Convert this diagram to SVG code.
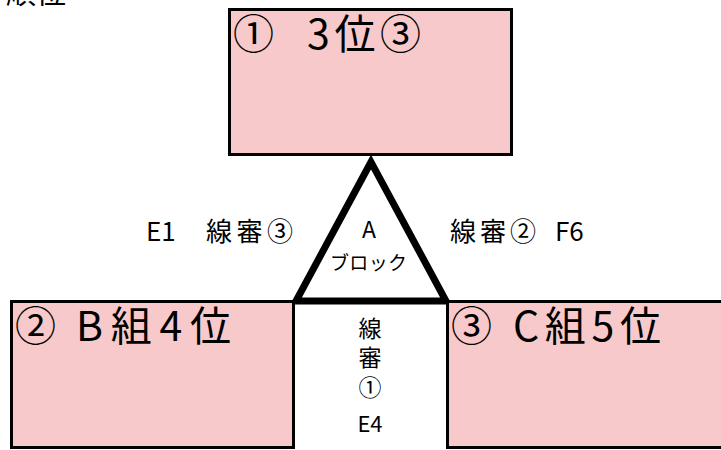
<svg xmlns="http://www.w3.org/2000/svg" width="721" height="450" viewBox="0 0 721 450">
<style>
.t{font-family:"Noto Sans CJK JP","Noto Sans",sans-serif;fill:#000}
.box{fill:#F8C9CA;stroke:#000;stroke-width:3}
.big{font-size:41px}
.mid{font-size:26px}
.col{font-size:23px}
</style>
<rect width="721" height="450" fill="#fff"/>
<text class="t" x="6" y="3" font-size="30">順位</text>
<g id="connectors">
<polygon points="371,162 296,301 446,301" fill="#fff" stroke="#000" stroke-width="7" stroke-linejoin="miter"/>
</g>
<g id="node-top">
<rect class="box" x="229.5" y="9.5" width="282" height="145"/>
<text class="t big" x="233" y="49">①</text>
<text class="t big" x="307" y="49" textLength="114" lengthAdjust="spacing">3位③</text>
</g>
<g id="node-left">
<rect class="box" x="11.5" y="301.5" width="282" height="146"/>
<text class="t big" x="15" y="341">②</text>
<text class="t big" x="76" y="341" textLength="155" lengthAdjust="spacing">B組4位</text>
</g>
<g id="node-right">
<rect class="box" x="447.5" y="301.5" width="290" height="146"/>
<text class="t big" x="451" y="341">③</text>
<text class="t big" x="513" y="341" textLength="148" lengthAdjust="spacing">C組5位</text>
</g>
<g id="node-block">
<text class="t" x="369" y="238" font-size="23" text-anchor="middle">A</text>
<text class="t" x="330" y="270" font-size="19" textLength="77" lengthAdjust="spacing">ブロック</text>
</g>
<g id="labels">
<text class="t mid" x="146" y="241">E1</text>
<text class="t mid" x="206" y="241" textLength="87" lengthAdjust="spacing">線審③</text>
<text class="t mid" x="450" y="241" textLength="86" lengthAdjust="spacing">線審②</text>
<text class="t mid" x="555" y="241">F6</text>
</g>
<g id="node-center">
<text class="t col" x="370" y="337" text-anchor="middle">線</text>
<text class="t col" x="370" y="366" text-anchor="middle">審</text>
<text class="t col" x="370" y="396" text-anchor="middle">①</text>
<text class="t" x="370" y="432" font-size="22" text-anchor="middle">E4</text>
</g>
</svg>
